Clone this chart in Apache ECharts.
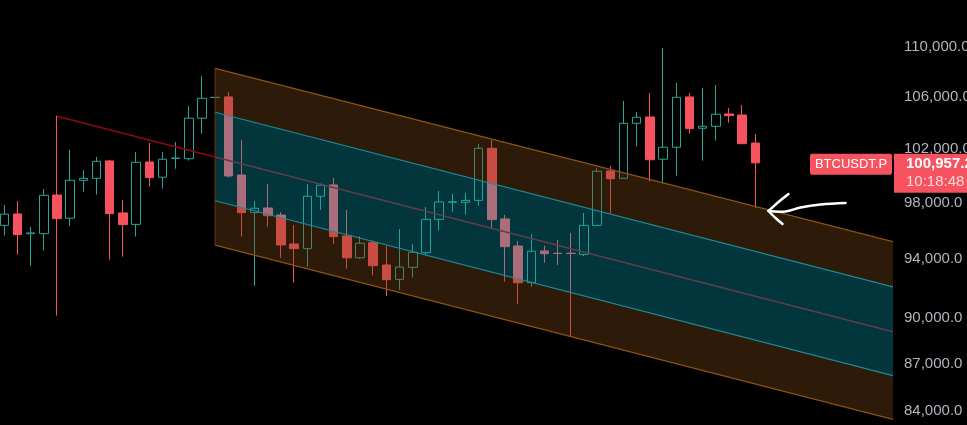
<!DOCTYPE html>
<html><head><meta charset="utf-8">
<script src="https://cdn.jsdelivr.net/npm/echarts@6/dist/echarts.min.js"></script>
<style>html,body{margin:0;padding:0;background:#000;overflow:hidden}#c{width:967px;height:425px}</style>
</head><body><div id="c"></div>
<script>
// ---- data (prices in USDT) ----
const opens  = [96390,97210,95800,95800,98580,96900,99660,99810,101100,97280,
                96460,101020,99890,101280,101270,104350,105960,106010,100050,97300,
                97640,97130,95070,94740,98490,99320,95640,94100,95160,93600,
                92610,93440,94460,96820,98050,98050,98190,102050,96850,94930,
                92380,94580,94420,94420,94340,96390,100350,99810,103960,104450,
                101230,102130,106010,103580,103730,104680,104600,102450];
const closes = [97190,95730,95850,98560,96870,99660,99810,101070,97230,96440,
                101000,99860,101230,101320,104350,105900,105980,99980,97300,97620,
                97080,95000,94740,98490,99300,95590,94100,95120,93550,92590,
                93460,94490,96820,98070,98090,98190,102050,96800,94880,92380,
                94560,94390,94400,94400,96390,100330,99780,103960,104420,101190,
                102130,105980,103550,103730,104660,104550,102400,100957.2];
const lows   = [95660,94320,93550,94600,90150,96360,98820,98600,93970,94180,
                95590,99190,99050,100520,101120,103160,105950,99860,95590,92170,
                96290,94100,92380,93480,97500,95070,93350,94040,92890,91460,
                91900,92730,94290,96010,97370,97160,97800,96110,92450,90960,
                92100,93760,93600,88810,94220,96390,97240,99810,102180,99560,
                99410,100000,103160,101120,102630,104010,102400,97620];
const highs  = [97860,98140,96270,99020,104550,101930,100420,101400,101170,98220,
                101780,102450,101780,102530,105300,107660,106000,106400,102680,98140,
                99390,97350,96410,99390,99440,99830,97500,95610,95320,94950,
                96130,95070,97710,98880,98650,98730,102380,102680,97130,95280,
                95750,94950,95350,95850,97280,100590,100720,105690,104830,106320,
                109920,107110,106320,106720,106950,105140,105380,103140];
const yTicks = [84000,87000,90000,94000,98000,102000,106000,110000];
// regression channel (bar index -> price)
const channelX      = [16, 67.45];
const channelUpper2 = [108280, 95230];
const channelUpper1 = [104810, 92100];
const channelLower1 = [98160, 86230];
const channelLower2 = [94990, 83490];
// red trend line (bar index -> price)
const trendX = [4, 67.45];
const trendY = [104500, 89085];
const lastPrice = 100957.2;
const symbolName = 'BTCUSDT.P';
const countdown = '10:18:48';
const arrowTip = [58, 97420];
const yRange = [83140, 113900];
const xRange = [-0.33, 67.45];

const L = Math.log;
const fmt = v => v.toLocaleString('en-US',{minimumFractionDigits:1,maximumFractionDigits:1});
const candles = opens.map((o,i)=>[i, L(o), L(closes[i]), L(lows[i]), L(highs[i])]);

const chart = echarts.init(document.getElementById('c'));
const FONT = 'Liberation Sans, Arial, sans-serif';
chart.setOption({
  backgroundColor:'#000',
  animation:false,
  grid:{left:0,right:74,top:0,bottom:0,containLabel:false,outerBoundsMode:'none'},
  xAxis:{type:'value',min:xRange[0],max:xRange[1],show:false},
  yAxis:{type:'value',position:'right',min:L(yRange[0]),max:L(yRange[1]),
    splitLine:{show:false},axisLine:{show:false},axisTick:{show:false},
    axisLabel:{customValues:yTicks.map(L),formatter:v=>fmt(Math.exp(v)),color:'#b2b5be',
      fontSize:15,fontFamily:FONT,margin:11,align:'left'}},
  series:[
    {type:'candlestick',z:2,barWidth:9,data:candles,
     itemStyle:{color:'rgba(0,0,0,0)',color0:'#f7525f',borderColor:'#26a69a',borderColor0:'#f7525f',borderWidth:1}},
    {type:'line',z:3,symbol:'none',silent:true,
     data:trendX.map((x,i)=>[x,L(trendY[i])]),
     lineStyle:{color:'#8e0a12',width:1.5}},
    {type:'custom',z:4,silent:true,clip:true,
     data:[[channelX[0],L(channelUpper2[0])]],
     renderItem:(params,api)=>{
       const P=(x,p)=>api.coord([x,L(p)]);
       const poly=(a,b,fill)=>({type:'polygon',shape:{points:[P(channelX[0],a[0]),P(channelX[1],a[1]),P(channelX[1],b[1]),P(channelX[0],b[0])]},style:{fill}});
       const line=(a,stroke,w)=>({type:'polyline',shape:{points:[P(channelX[0],a[0]),P(channelX[1],a[1])]},style:{stroke,lineWidth:w,fill:null}});
       const brown='rgba(124,70,22,0.37)', teal='rgba(6,169,188,0.32)';
       return {type:'group',children:[
         poly(channelUpper2,channelUpper1,brown),
         poly(channelUpper1,channelLower1,teal),
         poly(channelLower1,channelLower2,brown),
         {type:'polyline',shape:{points:[P(channelX[0],channelUpper2[0]),P(channelX[0],channelLower2[0])]},style:{stroke:'#6e2c14',lineWidth:1.2,fill:null}},
         line(channelUpper2,'#8f5316',1.2),
         line(channelLower2,'#8f5316',1.2),
         line(channelUpper1,'#1c8d97',1.2),
         line(channelLower1,'#1c8d97',1.2)
       ]};
     }}
  ]
});

const py = chart.convertToPixel({yAxisIndex:0}, L(lastPrice));
const gx = chart.convertToPixel({xAxisIndex:0}, xRange[1]);
const tip = chart.convertToPixel({xAxisIndex:0,yAxisIndex:0}, [arrowTip[0], L(arrowTip[1])]);
const tx = tip[0], ty = tip[1];
chart.setOption({graphic:[
  {type:'rect',z:100,shape:{x:gx+1,y:py-9,width:80,height:39},style:{fill:'#f7525f'}},
  {type:'text',z:101,x:gx+13,y:py+1,style:{text:fmt(lastPrice),fill:'#fff',font:'bold 15px '+FONT,verticalAlign:'middle',align:'left'}},
  {type:'text',z:101,x:gx+13,y:py+19,style:{text:countdown,fill:'rgba(255,255,255,0.78)',font:'15px '+FONT,verticalAlign:'middle',align:'left'}},
  {type:'rect',z:100,shape:{x:gx-83,y:py-9,width:82,height:21,r:2},style:{fill:'#f7525f'}},
  {type:'text',z:101,x:gx-42,y:py+1.5,style:{text:symbolName,fill:'#fff',font:'13px '+FONT,verticalAlign:'middle',align:'center'}},
  {type:'polyline',z:100,shape:{points:[[tx,ty],[tx+17,ty+0.5],[tx+32,ty-3.5],[tx+52,ty-6.5],[tx+77,ty-8]],smooth:0.4},style:{stroke:'#fff',lineWidth:2.5,fill:null,lineCap:'round'}},
  {type:'polyline',z:100,shape:{points:[[tx+20,ty-17],[tx+10,ty-9],[tx,ty]],smooth:0.3},style:{stroke:'#fff',lineWidth:2.5,fill:null,lineCap:'round'}},
  {type:'polyline',z:100,shape:{points:[[tx,ty],[tx+7,ty+7],[tx+14,ty+13]],smooth:0.3},style:{stroke:'#fff',lineWidth:2.5,fill:null,lineCap:'round'}}
]});
</script></body></html>
